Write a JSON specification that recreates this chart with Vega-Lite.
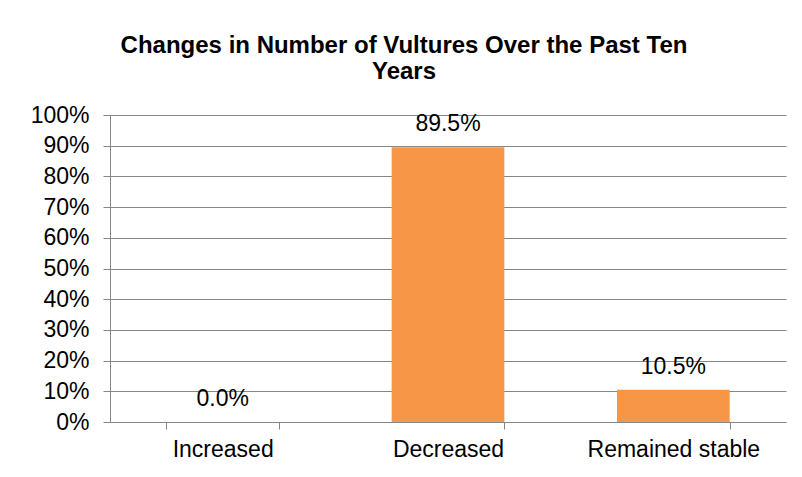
{
  "$schema": "https://vega.github.io/schema/vega-lite/v6.json",
  "autosize": "none",
  "width": 676,
  "height": 307,
  "padding": {"left": 110, "top": 115, "right": 16, "bottom": 55},
  "background": "white",
  "title": {
    "text": ["Changes in Number of Vultures Over the Past Ten", "Years"],
    "font": "Liberation Sans",
    "fontSize": 24,
    "fontWeight": "bold",
    "color": "black",
    "anchor": "middle",
    "frame": "group",
    "dx": -44,
    "offset": 20,
    "lineHeight": 26
  },
  "data": {
    "values": [
      {"category": "Increased", "share": 0.0},
      {"category": "Decreased", "share": 0.895},
      {"category": "Remained stable", "share": 0.105}
    ]
  },
  "config": {
    "view": {"stroke": null},
    "font": "Liberation Sans"
  },
  "encoding": {
    "x": {
      "field": "category",
      "type": "nominal",
      "sort": null,
      "scale": {"paddingInner": 0.5, "paddingOuter": 0.25},
      "axis": {
        "title": null,
        "labelAngle": 0,
        "labelFont": "Liberation Sans",
        "labelFontSize": 23,
        "labelColor": "black",
        "labelPadding": 9,
        "tickBand": "extent",
        "tickSize": 7,
        "tickColor": "#868686",
        "domainColor": "#868686",
        "grid": false
      }
    },
    "y": {
      "field": "share",
      "type": "quantitative",
      "scale": {"domain": [0, 1], "nice": false},
      "axis": {
        "title": null,
        "values": [0, 0.1, 0.2, 0.3, 0.4, 0.5, 0.6, 0.7, 0.8, 0.9, 1.0],
        "format": ".0%",
        "labelFont": "Liberation Sans",
        "labelFontSize": 23,
        "labelColor": "black",
        "labelPadding": 14,
        "tickSize": 7,
        "tickColor": "#868686",
        "domainColor": "#868686",
        "gridColor": "#868686",
        "gridOpacity": 1
      }
    }
  },
  "layer": [
    {"mark": {"type": "bar", "color": "#F79646"}},
    {
      "mark": {"type": "text", "baseline": "alphabetic", "dy": -16, "fontSize": 23, "font": "Liberation Sans", "color": "black"},
      "encoding": {
        "text": {"field": "share", "type": "quantitative", "format": ".1%"}
      }
    }
  ]
}
